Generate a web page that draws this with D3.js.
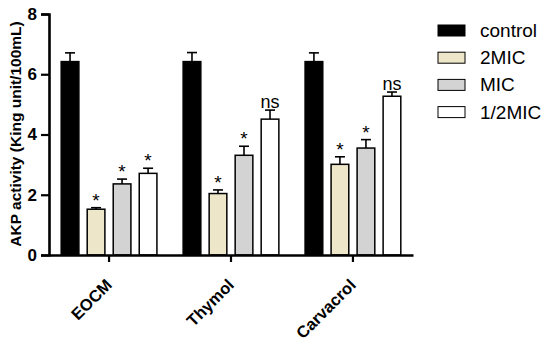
<!DOCTYPE html>
<html>
<head>
<meta charset="utf-8">
<script src="https://cdn.jsdelivr.net/npm/d3@7"></script>
<style>
  body { margin: 0; background: #fff; }
  svg { display: block; font-family: Arial, "Liberation Sans", sans-serif; }
</style>
</head>
<body>
<div id="viz"></div>
<script>
// groups on the x axis and the four treatments
const groups = ['EOCM', 'Thymol', 'Carvacrol'];
const series = ['control', '2MIC', 'MIC', '1/2MIC'];

// mean AKP activity per series, one value per group
const controlVals = [6.42, 6.42, 6.42];
const mic2Vals = [1.52, 2.04, 3.01];
const micVals = [2.36, 3.31, 3.55];
const halfMicVals = [2.71, 4.51, 5.27];

// error bar (upper) per series
const controlErr = [0.29, 0.30, 0.29];
const mic2Err = [0.05, 0.12, 0.25];
const micErr = [0.16, 0.30, 0.28];
const halfMicErr = [0.17, 0.30, 0.14];

// significance marks
const controlSig = ['', '', ''];
const mic2Sig = ['*', '*', '*'];
const micSig = ['*', '*', '*'];
const halfMicSig = ['*', 'ns', 'ns'];

const yTicks = [0, 2, 4, 6, 8];

const colors = ['#000000', '#ede6c9', '#d3d3d3', '#ffffff'];

const values = [controlVals, mic2Vals, micVals, halfMicVals];
const errors = [controlErr, mic2Err, micErr, halfMicErr];
const sigs = [controlSig, mic2Sig, micSig, halfMicSig];

const width = 550;
const height = 346;

const svg = d3.select('#viz').append('svg')
  .attr('width', width)
  .attr('height', height);

const y = d3.scaleLinear().domain([0, 8]).range([255, 14]);

const x0 = d3.scaleBand()
  .domain(groups)
  .range([49, 413])
  .paddingInner(0.215)
  .paddingOuter(0.1);

const x1 = d3.scaleBand()
  .domain(series)
  .range([0, x0.bandwidth()])
  .paddingInner(0.32)
  .paddingOuter(0);

// flatten into rows for drawing
const rows = [];
groups.forEach((g, gi) => {
  series.forEach((s, si) => {
    rows.push({ group: g, key: s, si, value: values[si][gi], err: errors[si][gi], sig: sigs[si][gi] });
  });
});

const bars = svg.append('g');

// error bars first (upper only)
const eb = bars.selectAll('g.err').data(rows).join('g').attr('class', 'err')
  .attr('stroke', '#000').attr('stroke-width', 1.6);
eb.append('line')
  .attr('x1', d => x0(d.group) + x1(d.key) + x1.bandwidth() / 2)
  .attr('x2', d => x0(d.group) + x1(d.key) + x1.bandwidth() / 2)
  .attr('y1', d => y(d.value))
  .attr('y2', d => y(d.value + d.err));
eb.append('line')
  .attr('x1', d => x0(d.group) + x1(d.key) + x1.bandwidth() / 2 - 5)
  .attr('x2', d => x0(d.group) + x1(d.key) + x1.bandwidth() / 2 + 5)
  .attr('y1', d => y(d.value + d.err))
  .attr('y2', d => y(d.value + d.err));

bars.selectAll('rect').data(rows).join('rect')
  .attr('x', d => x0(d.group) + x1(d.key))
  .attr('y', d => y(d.value))
  .attr('width', x1.bandwidth())
  .attr('height', d => y(0) - y(d.value))
  .attr('fill', d => colors[d.si])
  .attr('stroke', '#000')
  .attr('stroke-width', 1.5);

// significance labels
bars.selectAll('text').data(rows.filter(d => d.sig)).join('text')
  .attr('x', d => x0(d.group) + x1(d.key) + x1.bandwidth() / 2)
  .attr('y', d => y(d.value + d.err) - (d.sig === 'ns' ? 2 : 1))
  .attr('text-anchor', 'middle')
  .attr('font-size', d => d.sig === 'ns' ? 18 : 19)
  .text(d => d.sig);

// y axis
const yAxis = svg.append('g')
  .attr('transform', 'translate(49,0)')
  .call(d3.axisLeft(y).tickValues(yTicks).tickSize(8).tickPadding(4));
yAxis.select('.domain').attr('stroke-width', 2.6);
yAxis.selectAll('.tick line').attr('stroke-width', 2.2);
yAxis.selectAll('.tick text')
  .attr('font-size', 17).attr('font-weight', 'bold').attr('fill', '#000')
  .attr('font-family', 'Arial, "Liberation Sans", sans-serif');

// x axis
const xAxis = svg.append('g')
  .attr('transform', 'translate(0,255)')
  .call(d3.axisBottom(x0).tickSize(7).tickSizeOuter(0));
xAxis.select('.domain').attr('stroke-width', 2.6);
xAxis.selectAll('.tick line').attr('stroke-width', 2.2);
xAxis.selectAll('.tick text')
  .attr('font-size', 16.5).attr('font-weight', 'bold').attr('fill', '#000')
  .attr('font-family', 'Arial, "Liberation Sans", sans-serif')
  .attr('text-anchor', 'end')
  .attr('dy', null)
  .attr('y', null)
  .attr('transform', 'translate(4,31) rotate(-45)');

// y axis title
svg.append('text')
  .attr('transform', 'translate(21,134) rotate(-90)')
  .attr('text-anchor', 'middle')
  .attr('font-size', 15.5)
  .attr('font-weight', 'bold')
  .text('AKP activity (King unit/100mL)');

// legend
const legend = svg.append('g').selectAll('g').data(series).join('g')
  .attr('transform', (d, i) => `translate(438,${37 + i * 27.2})`);
legend.append('rect')
  .attr('x', 0).attr('y', -12)
  .attr('width', 27).attr('height', 11)
  .attr('fill', (d, i) => colors[i])
  .attr('stroke', '#000').attr('stroke-width', 1);
legend.append('text')
  .attr('x', 42).attr('y', 0)
  .attr('font-size', 19)
  .text(d => d);
</script>
</body>
</html>
